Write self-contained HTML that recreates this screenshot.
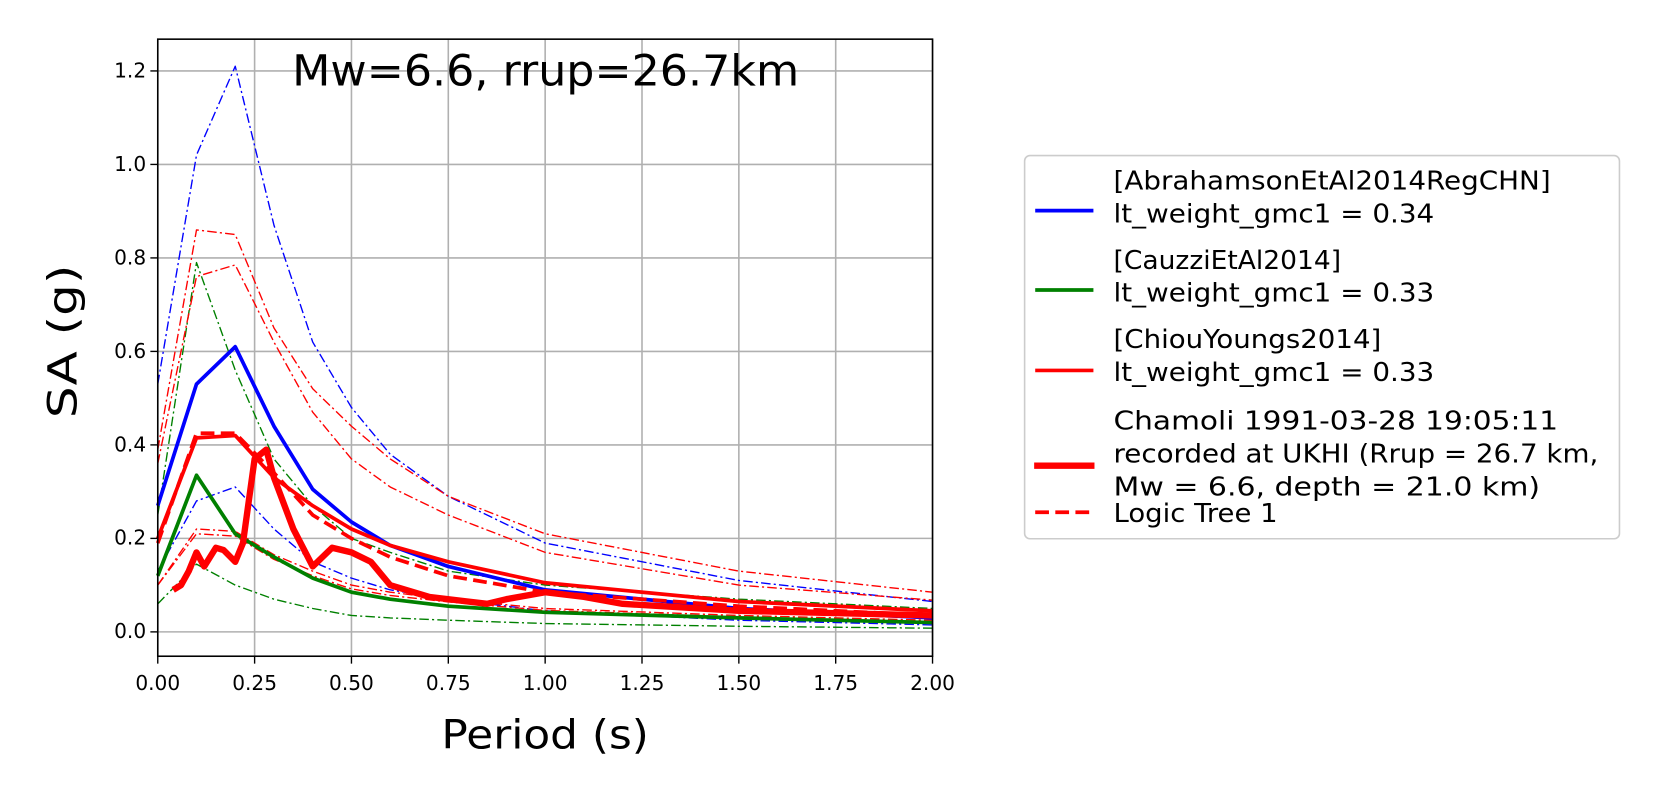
<!DOCTYPE html>
<html><head><meta charset="utf-8"><style>
body{margin:0;background:#fff;width:1659px;height:797px;overflow:hidden}
svg{font-family:"DejaVu Sans","Liberation Sans",sans-serif;display:block}
</style></head><body>
<svg id="chart" width="1659" height="797" viewBox="0 0 1567.3 753" xmlns="http://www.w3.org/2000/svg">
<g id="grid"></g>
<g id="series"></g>
<rect x="149" y="37" width="732" height="583" fill="none" stroke="#000" stroke-width="1.5"/>
<g id="ticks"></g>
<text x="276" y="81" font-size="40" textLength="479" lengthAdjust="spacingAndGlyphs">Mw=6.6, rrup=26.7km</text>
<text x="417" y="707" font-size="38" textLength="196" lengthAdjust="spacingAndGlyphs">Period (s)</text>
<text transform="translate(72,395) rotate(-90)" font-size="38" textLength="145" lengthAdjust="spacingAndGlyphs">SA (g)</text>
<g font-size="24">
<rect x="968" y="147" width="562" height="362" rx="5" fill="#fff" stroke="#ccc" stroke-width="1.5"/>
<g><line x1="978" y1="199" x2="1033" y2="199" stroke="#0000ff" stroke-width="3.5"/><text x="1052" y="179" textLength="413" lengthAdjust="spacingAndGlyphs">[AbrahamsonEtAl2014RegCHN]</text><text x="1052" y="210" textLength="303" lengthAdjust="spacingAndGlyphs">lt_weight_gmc1 = 0.34</text></g>
<g><line x1="978" y1="274" x2="1033" y2="274" stroke="#008000" stroke-width="3.5"/><text x="1052" y="254" textLength="215" lengthAdjust="spacingAndGlyphs">[CauzziEtAl2014]</text><text x="1052" y="285" textLength="303" lengthAdjust="spacingAndGlyphs">lt_weight_gmc1 = 0.33</text></g>
<g><line x1="978" y1="350" x2="1033" y2="350" stroke="#ff0000" stroke-width="3.5"/><text x="1052" y="329" textLength="253" lengthAdjust="spacingAndGlyphs">[ChiouYoungs2014]</text><text x="1052" y="360" textLength="303" lengthAdjust="spacingAndGlyphs">lt_weight_gmc1 = 0.33</text></g>
<g><line x1="977" y1="440" x2="1034" y2="440" stroke="#ff0000" stroke-width="6"/><text x="1052" y="406" textLength="420" lengthAdjust="spacingAndGlyphs">Chamoli 1991-03-28 19:05:11</text><text x="1052" y="437" textLength="458" lengthAdjust="spacingAndGlyphs">recorded at UKHI (Rrup = 26.7 km,</text><text x="1052" y="468" textLength="403" lengthAdjust="spacingAndGlyphs">Mw = 6.6, depth = 21.0 km)</text></g>
<g><line x1="978" y1="484" x2="1033" y2="484" stroke="#ff0000" stroke-width="3.5" stroke-dasharray="13,6"/><text x="1052" y="493" textLength="155" lengthAdjust="spacingAndGlyphs">Logic Tree 1</text></g>
</g>
</svg>
<script>
const periods=[0,0.1,0.2,0.3,0.4,0.5,0.6,0.75,1.0,1.5,2.0];
const abrMean=[0.27,0.53,0.61,0.44,0.305,0.235,0.185,0.14,0.09,0.05,0.03];
const abrUpper=[0.53,1.02,1.21,0.87,0.62,0.48,0.38,0.29,0.19,0.11,0.065];
const abrLower=[0.13,0.28,0.31,0.22,0.15,0.115,0.09,0.07,0.045,0.025,0.015];
const cauMean=[0.12,0.335,0.21,0.16,0.115,0.085,0.07,0.055,0.042,0.03,0.02];
const cauUpper=[0.25,0.79,0.56,0.37,0.27,0.2,0.17,0.13,0.1,0.07,0.05];
const cauLower=[0.06,0.145,0.1,0.07,0.05,0.035,0.03,0.025,0.018,0.012,0.008];
const cyMean=[0.2,0.415,0.42,0.33,0.27,0.22,0.185,0.15,0.105,0.065,0.045];
const cyUpperA=[0.39,0.86,0.85,0.65,0.52,0.44,0.37,0.29,0.21,0.13,0.085];
const cyUpperB=[0.36,0.76,0.785,0.62,0.47,0.37,0.31,0.25,0.17,0.1,0.068];
const cyLowerA=[0.1,0.22,0.215,0.165,0.13,0.1,0.085,0.07,0.05,0.035,0.025];
const cyLowerB=[0.1,0.21,0.205,0.155,0.12,0.092,0.078,0.064,0.046,0.032,0.022];
const logicTree=[0.19,0.425,0.425,0.34,0.25,0.2,0.16,0.12,0.085,0.055,0.035];
const recPeriods=[0.04,0.06,0.08,0.1,0.12,0.15,0.17,0.2,0.22,0.25,0.28,0.3,0.35,0.4,0.45,0.5,0.55,0.6,0.7,0.8,0.85,0.9,1.0,1.1,1.2,1.5,2.0];
const recValues=[0.09,0.1,0.13,0.17,0.14,0.18,0.175,0.15,0.19,0.37,0.39,0.33,0.22,0.14,0.18,0.17,0.15,0.1,0.075,0.065,0.06,0.07,0.085,0.075,0.06,0.045,0.035];
const xTicks=[0,0.25,0.5,0.75,1.0,1.25,1.5,1.75,2.0];
const yTicks=[0,0.2,0.4,0.6,0.8,1.0,1.2];
const X=v=>149+v/2*732, Y=v=>597-v/0.2*88.33;
const NS='http://www.w3.org/2000/svg';
const grid=document.getElementById('grid'),ticks=document.getElementById('ticks'),ser=document.getElementById('series');
function mk(tag,attrs,parent){const e=document.createElementNS(NS,tag);for(const k in attrs)e.setAttribute(k,attrs[k]);parent.appendChild(e);return e;}
xTicks.forEach(t=>{
 const g=mk('line',{x1:X(t),x2:X(t),y1:37,y2:620,stroke:'#b0b0b0','stroke-width':1.5},grid);
 
 
 mk('line',{x1:X(t),x2:X(t),y1:620,y2:627,stroke:'#000','stroke-width':1.3},ticks);
 const tx=mk('text',{x:X(t),y:652,'font-size':19,'text-anchor':'middle'},ticks);tx.textContent=t.toFixed(2);
 
 
});
yTicks.forEach(t=>{
 const g=mk('line',{x1:149,x2:881,y1:Y(t),y2:Y(t),stroke:'#b0b0b0','stroke-width':1.5},grid);
 
 
 mk('line',{x1:142,x2:149,y1:Y(t),y2:Y(t),stroke:'#000','stroke-width':1.3},ticks);
 const tx=mk('text',{x:138,y:Y(t)+6,'font-size':19,'text-anchor':'end'},ticks);tx.textContent=t.toFixed(1);
 
 
});
function line(xs,ys,color,w,dash,name){
 const d=xs.map((x,i)=>(i?'L':'M')+X(x).toFixed(1)+','+Y(ys[i]).toFixed(1)).join('');
 const p=mk('path',{d:d,fill:'none',stroke:color,'stroke-width':w,'stroke-linejoin':'round'},ser);
 if(dash)p.setAttribute('stroke-dasharray',dash);
 
 
}
const dd='9,3,2,3';
line(periods,abrUpper,'#0000ff',1.3,dd,'abrahamson-upper');
line(periods,abrLower,'#0000ff',1.3,dd,'abrahamson-lower');
line(periods,cauUpper,'#008000',1.3,dd,'cauzzi-upper');
line(periods,cauLower,'#008000',1.3,dd,'cauzzi-lower');
line(periods,cyUpperA,'#ff0000',1.3,dd,'chiou-upper-a');
line(periods,cyUpperB,'#ff0000',1.3,dd,'chiou-upper-b');
line(periods,cyLowerA,'#ff0000',1.3,dd,'chiou-lower-a');
line(periods,cyLowerB,'#ff0000',1.3,dd,'chiou-lower-b');
line(periods,abrMean,'#0000ff',3.5,null,'abrahamson-mean');
line(periods,cauMean,'#008000',3.5,null,'cauzzi-mean');
line(periods,cyMean,'#ff0000',3.5,null,'chiou-mean');
line(periods,logicTree,'#ff0000',3.5,'13,6','logic-tree-mean');
line(recPeriods,recValues,'#ff0000',6,null,'recorded-spectrum');
</script>
</body></html>
